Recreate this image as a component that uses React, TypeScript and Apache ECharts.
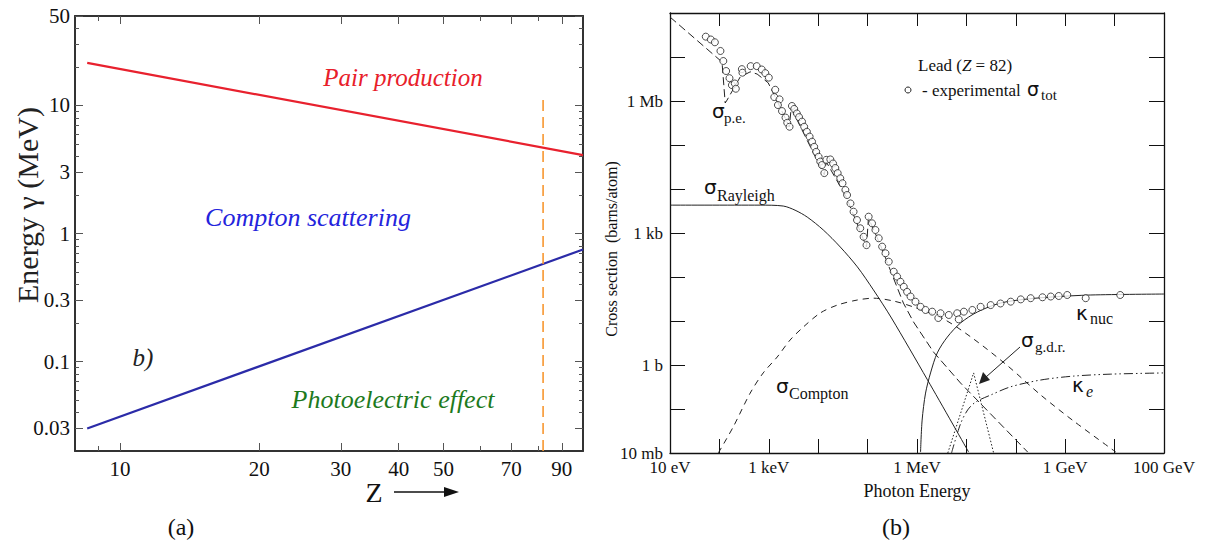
import React, { useEffect, useRef } from "react";
import * as echarts from "echarts";

// ---------------- Panel (a): energy vs atomic number Z ----------------
const zTickMajor = [10, 20, 30, 40, 50, 70, 90];
const zTickMinor = [9, 60, 80];
const zTickLabels = [10, 20, 30, 40, 50, 70, 90];
const eTickMajor = [0.03, 0.1, 0.3, 1, 3, 10, 50];
const eTickMinor = [0.04, 0.05, 0.06, 0.07, 0.08, 0.09, 0.2, 0.4, 0.5, 0.6, 0.7, 0.8, 0.9, 2, 4, 5, 6, 7, 8, 9, 20, 30, 40];
const eTickLabels = [0.03, 0.1, 0.3, 1, 3, 10, 50];
const pairProductionLine = [[8.5, 21.5], [100, 4.1]];
const photoComptonLine = [[8.5, 0.03], [100, 0.75]];
const leadMarkerLine = [[82, 0.02], [82, 12]];

// ---------------- Panel (b): photon cross sections in lead ----------------
// energies in MeV, cross sections in barns/atom
const energyDecades = [1e-5, 1e-4, 1e-3, 1e-2, 1e-1, 1, 1e1, 1e2, 1e3, 1e4, 1e5];
const energyLabelValues = [1e-5, 1e-3, 1, 1e3, 1e5];
const energyLabelNames = ["10 eV", "1 keV", "1 MeV", "1 GeV", "100 GeV"];
const sigmaDecades = [1e-2, 1e-1, 1, 1e1, 1e2, 1e3, 1e4, 1e5, 1e6, 1e7, 1e8];
const sigmaLabelValues = [1e-2, 1, 1e3, 1e6];
const sigmaLabelNames = ["10 mb", "1 b", "1 kb", "1 Mb"];

const sigmaTotExp = [
  [5.3e-5, 2.9e7], [6.7e-5, 2.5e7], [8.1e-5, 2.16e7], [1.05e-4, 1.37e7], [1.2e-4, 8.1e6],
  [1.37e-4, 4.8e6], [1.6e-4, 3.3e6], [1.79e-4, 2.3e6], [2.05e-4, 2.5e6], [2.15e-4, 1.9e6],
  [2.85e-4, 5.3e6], [2.93e-4, 4.4e6], [4.3e-4, 6.2e6], [5.7e-4, 6.2e6], [7.2e-4, 5.2e6],
  [8.5e-4, 4.3e6], [1.0e-3, 3.4e6], [1.35e-3, 1.8e6], [1.29e-3, 1.23e6], [1.65e-3, 1.09e6],
  [1.53e-3, 8.1e5], [1.85e-3, 5.9e5], [2.18e-3, 4.2e5], [2.36e-3, 3.2e5], [2.63e-3, 2.6e5],
  [2.94e-3, 7.7e5], [3.27e-3, 6.6e5], [3.7e-3, 5.2e5], [4.1e-3, 4.3e5], [4.7e-3, 3.4e5],
  [5.2e-3, 2.6e5], [5.9e-3, 2.0e5], [6.7e-3, 1.55e5], [7.5e-3, 1.19e5], [8.3e-3, 9.1e4],
  [9.1e-3, 7.0e4], [1.02e-2, 5.4e4], [1.1e-2, 4.2e4], [1.19e-2, 3.5e4], [1.33e-2, 2.3e4],
  [1.46e-2, 4.6e4], [1.76e-2, 4.7e4], [2.0e-2, 3.8e4], [2.22e-2, 3.0e4], [2.48e-2, 2.3e4],
  [2.8e-2, 1.75e4], [3.1e-2, 1.35e4], [3.55e-2, 9.5e3], [3.84e-2, 7.3e3], [4.5e-2, 4.7e3],
  [5.2e-2, 3.05e3], [6.1e-2, 1.97e3], [7.1e-2, 1.28e3], [8.3e-2, 820], [9.5e-2, 530],
  [0.105, 2350], [0.123, 1660], [0.144, 1170], [0.168, 760], [0.197, 490],
  [0.23, 346], [0.268, 223], [0.338, 132], [0.396, 102], [0.462, 78],
  [0.54, 60], [0.63, 46], [0.74, 36], [0.93, 27.5], [1.18, 21],
  [1.49, 17.8], [2.03, 16.3], [2.7, 11.7], [3.0, 15], [4.4, 13.7],
  [6.5, 15], [7.0, 10.9], [8.9, 16.3], [13.2, 17.8], [19.4, 21],
  [31, 23], [49, 25], [79, 27.5], [126, 31], [200, 33],
  [347, 34.6], [510, 36], [740, 37], [1100, 39], [2600, 33], [13000, 39],
];
const sigmaPhotoElectric = [
  [1e-5, 8.1e7], [1.13e-4, 7.7e6], [1.31e-4, 9.0e5], [1.43e-4, 1.05e6], [2.63e-4, 3.5e6],
  [4.2e-4, 4.6e6], [5.8e-4, 4.1e6], [9.7e-4, 2.6e6], [1.35e-3, 1.23e6], [2.6e-3, 2.6e5],
  [2.84e-3, 6.9e5], [1.33e-2, 2.1e4], [1.46e-2, 4.1e4], [3.7e-2, 6.6e3], [9.5e-2, 480],
  [0.104, 2200], [0.182, 530], [0.333, 95], [0.53, 25.6], [0.85, 9.5],
  [2.16, 1.97], [7.6, 0.39], [31, 0.077], [174, 0.0105],
];
const sigmaRayleigh = [
  [1e-5, 4300], [6.7e-4, 4300], [1.96e-3, 4100], [3.4e-3, 3300], [6.0e-3, 2300],
  [1.27e-2, 1170], [2.8e-2, 480], [6.2e-2, 170], [0.131, 51], [0.304, 11.7],
  [1.63, 0.46], [11.1, 0.0105],
];
const sigmaCompton = [
  [9.5e-5, 0.01], [1.9e-4, 0.039], [4.2e-4, 0.23], [7.7e-4, 0.66], [1.48e-3, 1.52],
  [2.7e-3, 3.7], [5.0e-3, 7.3], [1.1e-2, 15.2], [2.44e-2, 23], [6.2e-2, 30],
  [0.131, 33], [0.333, 28.5], [0.85, 20.8], [3.45, 11.1], [14, 3.9],
  [69, 0.95], [320, 0.208], [1490, 0.053], [10600, 0.0105],
];
const kappaNuc = [
  [1.18, 0.0105], [1.27, 0.056], [1.49, 0.23], [1.88, 0.66], [2.57, 1.88],
  [4.1, 4.3], [7.6, 9.0], [16.6, 16.0], [49, 25.6], [172, 31.6],
  [510, 35], [3300, 39], [1e5, 41],
];
const kappaE = [
  [5.0, 0.01], [7.6, 0.046], [10.6, 0.095], [15.4, 0.144], [31, 0.208],
  [79, 0.32], [320, 0.456], [1490, 0.56], [8400, 0.62], [1e5, 0.66],
];
const sigmaGDR = [[4.2, 0.01], [14, 0.66], [35.6, 0.01]];

const SERIF = "'Liberation Serif', 'Times New Roman', serif";
const SANS = "'DejaVu Sans', sans-serif";

function nearestName(v: number, vals: number[], names: string[]) {
  let bi = 0;
  let bd = Infinity;
  vals.forEach((x, i) => {
    const d = Math.abs(Math.log10(x) - Math.log10(v));
    if (d < bd) { bd = d; bi = i; }
  });
  return names[bi];
}

function axis(o: any) {
  return {
    type: "log",
    logBase: 10,
    gridIndex: o.grid,
    min: o.min,
    max: o.max,
    position: o.position,
    axisLine: { show: !!o.line, onZero: false, lineStyle: { color: o.lineColor || "#222", width: o.lineWidth || 1 } },
    axisTick: {
      show: true,
      inside: true,
      length: o.tickLen,
      customValues: o.ticks,
      lineStyle: { color: o.tickColor || "#222", width: o.tickWidth || 1 },
    },
    axisLabel: o.labels
      ? {
          show: true,
          customValues: o.labels,
          formatter: o.formatter,
          fontFamily: SERIF,
          fontSize: o.fontSize,
          color: "#111",
          margin: o.margin,
        }
      : { show: false },
    splitLine: { show: false },
    minorTick: { show: false },
    minorSplitLine: { show: false },
  };
}

function txt(x: number, y: number, text: string, size: number, o: any = {}) {
  return {
    type: "text",
    x,
    y,
    rotation: o.rot || 0,
    silent: true,
    z: 100,
    style: {
      text,
      fontSize: size,
      fontFamily: o.family || SERIF,
      fontStyle: o.italic ? "italic" : "normal",
      fill: o.color || "#111",
      align: o.align || "left",
      verticalAlign: "middle",
    },
  };
}

const eLabelNames = eTickLabels.map((v) => String(v));
const zLabelNames = zTickLabels.map((v) => String(v));

const leftX = (position: string, ticks: number[], len: number, line: boolean, labels?: number[]) =>
  axis({
    grid: 0, min: 8, max: 100, position, ticks, tickLen: len, line, lineColor: "#333", lineWidth: 2,
    tickColor: "#555", labels, fontSize: 21, margin: 7,
    formatter: (v: number) => nearestName(v, zTickLabels, zLabelNames),
  });
const leftY = (position: string, ticks: number[], len: number, line: boolean, labels?: number[]) =>
  axis({
    grid: 0, min: 0.02, max: 50, position, ticks, tickLen: len, line, lineColor: "#333", lineWidth: 2,
    tickColor: "#555", labels, fontSize: 21, margin: 5,
    formatter: (v: number) => nearestName(v, eTickLabels, eLabelNames),
  });
const rightX = (position: string, len: number, labels?: number[]) =>
  axis({
    grid: 1, min: 1e-5, max: 1e5, position, ticks: energyDecades, tickLen: len, line: true,
    lineColor: "#111", lineWidth: 1.3, tickColor: "#111", labels, fontSize: 17, margin: 6,
    formatter: (v: number) => nearestName(v, energyLabelValues, energyLabelNames),
  });
const rightY = (position: string, len: number, labels?: number[]) =>
  axis({
    grid: 1, min: 1e-2, max: 1e8, position, ticks: sigmaDecades, tickLen: len, line: true,
    lineColor: "#111", lineWidth: 1.3, tickColor: "#111", labels, fontSize: 17, margin: 7,
    formatter: (v: number) => nearestName(v, sigmaLabelValues, sigmaLabelNames),
  });

const thin = (type: any) => ({ color: "#222", width: 1, type });

const option: any = {
  animation: false,
  backgroundColor: "#ffffff",
  textStyle: { fontFamily: SERIF },
  grid: [
    { left: 75, top: 16, width: 508, height: 435, outerBoundsMode: "none", containLabel: false },
    { left: 670, top: 13, width: 494, height: 440, outerBoundsMode: "none", containLabel: false },
  ],
  xAxis: [
    leftX("bottom", zTickMajor, 8, true, zTickLabels),
    leftX("bottom", zTickMinor, 5, false),
    leftX("top", zTickMajor, 8, true),
    leftX("top", zTickMinor, 5, false),
    rightX("bottom", 14, energyLabelValues),
    rightX("top", 13),
  ],
  yAxis: [
    leftY("left", eTickMajor, 8, true, eTickLabels),
    leftY("left", eTickMinor, 4, false),
    leftY("right", eTickMajor, 8, true),
    leftY("right", eTickMinor, 4, false),
    rightY("left", 15, sigmaLabelValues),
    rightY("right", 15),
  ],
  series: [
    {
      name: "Pair production", type: "line", xAxisIndex: 0, yAxisIndex: 0, data: pairProductionLine,
      symbol: "none", lineStyle: { color: "#e8212e", width: 2.2 },
    },
    {
      name: "Photoelectric / Compton", type: "line", xAxisIndex: 0, yAxisIndex: 0, data: photoComptonLine,
      symbol: "none", lineStyle: { color: "#2b2ba8", width: 2.2 },
    },
    {
      name: "Lead Z=82", type: "line", xAxisIndex: 0, yAxisIndex: 0, data: leadMarkerLine,
      symbol: "none", lineStyle: { color: "#f7962f", width: 1.6, type: [11, 6] },
    },
    {
      name: "sigma p.e.", type: "line", xAxisIndex: 4, yAxisIndex: 4, data: sigmaPhotoElectric,
      symbol: "none", lineStyle: thin([8, 4]),
    },
    {
      name: "sigma Rayleigh", type: "line", xAxisIndex: 4, yAxisIndex: 4, data: sigmaRayleigh,
      symbol: "none", smooth: 0.3, lineStyle: thin("solid"),
    },
    {
      name: "sigma Compton", type: "line", xAxisIndex: 4, yAxisIndex: 4, data: sigmaCompton,
      symbol: "none", smooth: 0.3, lineStyle: thin([6, 5]),
    },
    {
      name: "kappa nuc", type: "line", xAxisIndex: 4, yAxisIndex: 4, data: kappaNuc,
      symbol: "none", smooth: 0.3, lineStyle: thin("solid"),
    },
    {
      name: "kappa e", type: "line", xAxisIndex: 4, yAxisIndex: 4, data: kappaE,
      symbol: "none", smooth: 0.3, lineStyle: thin([9, 3, 1.5, 3, 1.5, 3]),
    },
    {
      name: "sigma g.d.r.", type: "line", xAxisIndex: 4, yAxisIndex: 4, data: sigmaGDR,
      symbol: "none", lineStyle: thin([1.5, 2]),
    },
    {
      name: "experimental sigma tot", type: "scatter", xAxisIndex: 4, yAxisIndex: 4, data: sigmaTotExp,
      symbol: "circle", symbolSize: 7, z: 10,
      itemStyle: { color: "#ffffff", borderColor: "#222", borderWidth: 1 },
    },
  ],
  graphic: {
    elements: [
      // panel (a) texts
      txt(403, 77, "Pair production", 25, { italic: true, color: "#e8202a", align: "center" }),
      txt(308, 217, "Compton scattering", 26, { italic: true, color: "#2424dc", align: "center" }),
      txt(393, 399, "Photoelectric effect", 26, { italic: true, color: "#1d7a1d", align: "center" }),
      txt(143, 357, "b)", 25, { italic: true, color: "#222", align: "center" }),
      txt(27, 205, "Energy γ (MeV)", 30, { align: "center", rot: Math.PI / 2, color: "#222" }),
      txt(374, 492, "Z", 28, { align: "center", color: "#111" }),
      { type: "line", silent: true, shape: { x1: 394, y1: 492, x2: 448, y2: 492 }, style: { stroke: "#111", lineWidth: 1.5 } },
      { type: "polygon", silent: true, shape: { points: [[444, 487], [459, 492], [444, 497]] }, style: { fill: "#111" } },
      txt(181, 527, "(a)", 24, { align: "center" }),
      // panel (b) texts
      txt(896, 527, "(b)", 24, { align: "center" }),
      txt(917, 491, "Photon Energy", 18, { align: "center" }),
      txt(611, 249, "Cross section  (barns/atom)", 16, { align: "center", rot: Math.PI / 2 }),
      {
        type: "text", x: 918, y: 65, silent: true, z: 100,
        style: {
          text: "{a|Lead (}{b|Z}{a| = 82)}",
          verticalAlign: "middle",
          rich: {
            a: { fontFamily: SERIF, fontSize: 17, fill: "#111", color: "#111" },
            b: { fontFamily: SERIF, fontSize: 17, fontStyle: "italic", fill: "#111", color: "#111" },
          },
        },
      },
      { type: "circle", silent: true, z: 100, shape: { cx: 908, cy: 90, r: 3 }, style: { fill: "#fff", stroke: "#222", lineWidth: 1 } },
      txt(922, 90, "- experimental", 17),
      txt(1027, 89, "σ", 19, { family: SANS }),
      txt(1041, 95, "tot", 15),
      txt(712, 111, "σ", 20, { family: SANS }),
      txt(724, 118, "p.e.", 15),
      txt(704, 187, "σ", 20, { family: SANS }),
      txt(717, 195, "Rayleigh", 16),
      txt(776, 386, "σ", 20, { family: SANS }),
      txt(789, 393, "Compton", 16),
      txt(1076, 313, "κ", 20, { family: SANS }),
      txt(1090, 318, "nuc", 16),
      txt(1021, 340, "σ", 20, { family: SANS }),
      txt(1035, 347, "g.d.r.", 15),
      txt(1072, 385, "κ", 20, { family: SANS }),
      txt(1086, 391, "e", 16, { italic: true }),
      { type: "line", silent: true, shape: { x1: 1020, y1: 347, x2: 986, y2: 377 }, style: { stroke: "#222", lineWidth: 1 } },
      { type: "polygon", silent: true, shape: { points: [[979, 384], [983, 372], [990, 380]] }, style: { fill: "#222" } },
    ],
  },
};

export default function App() {
  const ref = useRef<HTMLDivElement>(null);
  useEffect(() => {
    const chart = echarts.init(ref.current as HTMLDivElement, undefined, { renderer: "svg", width: 1206, height: 548 });
    chart.setOption(option);
    return () => chart.dispose();
  }, []);
  return (
    <div
      ref={ref}
      style={{ position: "fixed", left: 0, top: 0, width: 1206, height: 548, background: "#fff" }}
    />
  );
}
